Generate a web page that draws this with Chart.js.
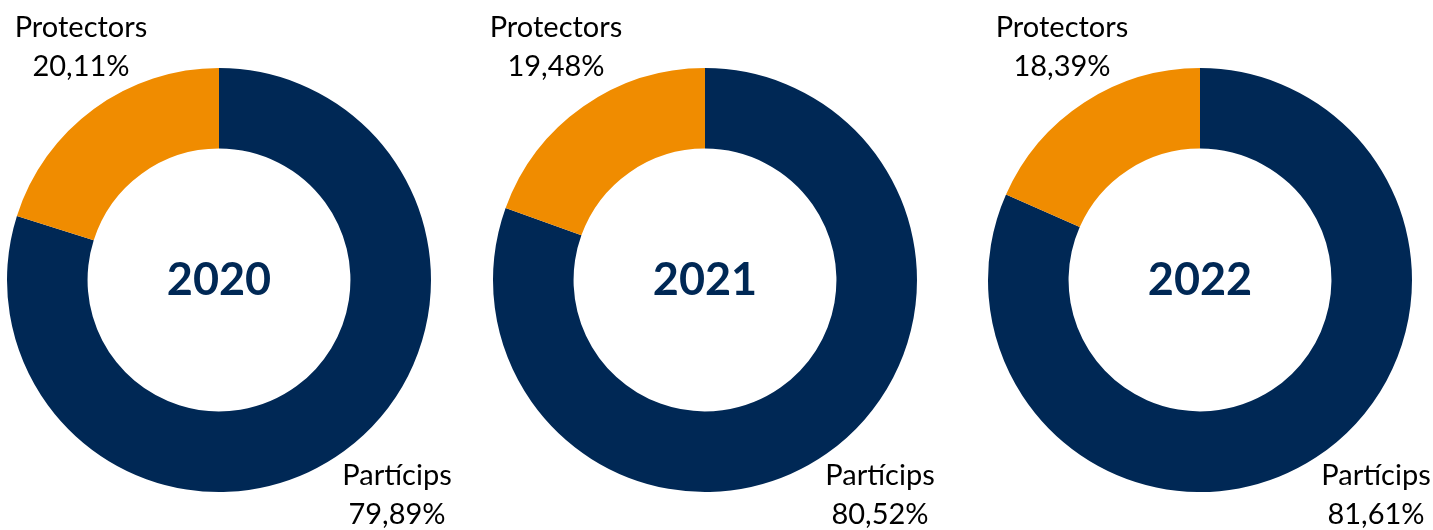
<!DOCTYPE html>
<html>
<head>
<meta charset="utf-8">
<script src="https://cdn.jsdelivr.net/npm/chart.js@4.4.1/dist/chart.umd.min.js"></script>
<style>
  body { margin: 0; background: #fff; }
  .chart { position: absolute; top: 0; height: 530px; }
</style>
</head>
<body>
<div class="chart" style="left:0;width:480px"><canvas id="c0"></canvas></div>
<div class="chart" style="left:480px;width:480px"><canvas id="c1"></canvas></div>
<div class="chart" style="left:960px;width:473px"><canvas id="c2"></canvas></div>
<script>
const years = ['2020', '2021', '2022']
const categories = ['Partícips', 'Protectors']
const particips = [79.89, 80.52, 81.61]
const protectors = [20.11, 19.48, 18.39]

const colors = ['#002855', '#F08C00']
const fontFamily = 'Lato, "Noto Sans", sans-serif'

// Padding de cada gràfic per centrar l'anell
const paddings = [
    { top: 68, bottom: 38, left: 7, right: 49 },
    { top: 68, bottom: 38, left: 13, right: 43 },
    { top: 68, bottom: 38, left: 28, right: 21 },
]

// Posició de les etiquetes respecte al centre de l'anell
const labelOffsets = [
    [{ dx: 178, dy: 205 }, { dx: -138, dy: -243 }],
    [{ dx: 175, dy: 205 }, { dx: -149, dy: -243 }],
    [{ dx: 176, dy: 205 }, { dx: -138, dy: -243 }],
]

function formatPercent(v) {
    return v.toFixed(2).replace('.', ',') + '%'
}

// Any al centre i etiquetes amb percentatge a fora
const ringLabels = {
    id: 'ringLabels',
    afterDraw(chart, args, opts) {
        const ctx = chart.ctx
        const arc = chart.getDatasetMeta(0).data[0]
        const cx = arc.x
        const cy = arc.y
        const ds = chart.data.datasets[0]

        ctx.save()
        ctx.textAlign = 'center'
        ctx.textBaseline = 'alphabetic'

        ctx.fillStyle = '#002855'
        ctx.font = 'bold 45px ' + fontFamily
        ctx.fillText(opts.year, cx, cy + 15)

        ctx.fillStyle = '#000'
        ctx.font = '29px ' + fontFamily
        chart.data.labels.forEach((label, i) => {
            const o = opts.offsets[i]
            ctx.fillText(label, cx + o.dx, cy + o.dy)
            ctx.fillText(formatPercent(ds.data[i]), cx + o.dx, cy + o.dy + 39)
        })
        ctx.restore()
    },
}

years.forEach((year, i) => {
    new Chart(document.querySelector('#c' + i), {
        type: 'doughnut',
        data: {
            labels: categories,
            datasets: [{
                data: [particips[i], protectors[i]],
                backgroundColor: colors,
                borderWidth: 0,
            }],
        },
        options: {
            animation: false,
            responsive: true,
            maintainAspectRatio: false,
            cutout: '62%',
            layout: { padding: paddings[i] },
            plugins: {
                legend: { display: false },
                tooltip: { enabled: false },
                ringLabels: { year: year, offsets: labelOffsets[i] },
            },
        },
        plugins: [ringLabels],
    })
})
</script>
</body>
</html>
